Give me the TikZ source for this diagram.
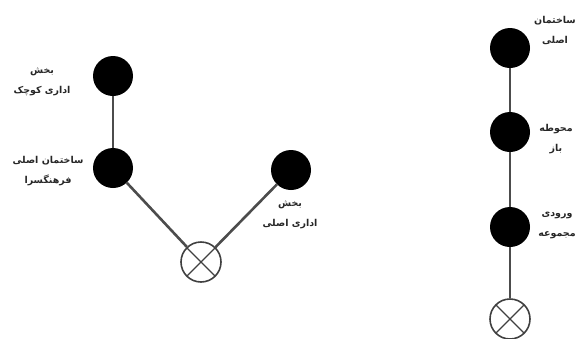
\documentclass[tikz,border=0pt]{standalone}
\usepackage{fontspec}
\newfontfamily\arabicfont[Script=Arabic]{DejaVu Sans}
\TeXXeTstate=1
\begin{document}
\begin{tikzpicture}[x=1pt,y=-1pt,
  dot/.style={circle,fill=black,minimum size=40pt,inner sep=0pt},
  xcircle/.style={circle,draw=black!75,line width=1.6pt,minimum size=40pt,inner sep=0pt,
    path picture={\draw[black!75,line width=1.4pt] (path picture bounding box.north west) -- (path picture bounding box.south east)
      (path picture bounding box.north east) -- (path picture bounding box.south west);}},
  conn/.style={draw=black!70,line width=2.6pt},
  lbl/.style={font=\arabicfont\bfseries\fontsize{9.5}{20}\selectfont,align=center,inner sep=0pt,text=black!85}]
\useasboundingbox (0,0) rectangle (579,338);
% left graph
\node[dot] (a) at (113,76) {};
\node[dot] (b) at (113,168) {};
\node[dot] (c) at (291,170) {};
\node[xcircle] (x1) at (201,262) {};
\draw[conn] (a) -- (b);
\draw[conn] (b) -- (x1);
\draw[conn] (x1) -- (c);
\node[lbl] (la) at (42,82) {\beginR بخش\endR\\\beginR اداری کوچک\endR};
\node[lbl] (lb) at (48,171) {\beginR ساختمان اصلی\endR\\\beginR فرهنگسرا\endR};
\node[lbl] (lc) at (290,215) {\beginR بخش\endR\\\beginR اداری اصلی\endR};
% right graph
\node[dot] (d) at (510,48) {};
\node[dot] (e) at (510,132) {};
\node[dot] (f) at (510,227) {};
\node[xcircle] (x2) at (510,319) {};
\draw[conn] (d) -- (e);
\draw[conn] (e) -- (f);
\draw[conn] (f) -- (x2);
\node[lbl] (ld) at (555,30) {\beginR ساختمان\endR\\\beginR اصلی\endR};
\node[lbl] (le) at (556,139) {\beginR محوطه\endR\\\beginR باز\endR};
\node[lbl] (lf) at (557,225) {\beginR ورودی\endR\\\beginR مجموعه\endR};
\end{tikzpicture}
\end{document}
